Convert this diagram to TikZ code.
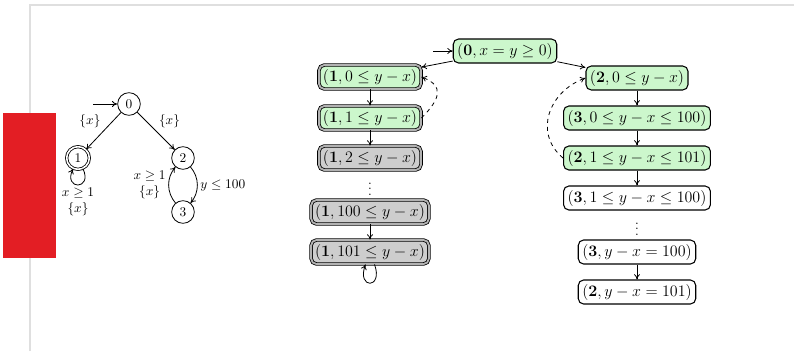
\documentclass[tikz,border=0pt]{standalone}
\usetikzlibrary{arrows.meta}
\usepackage{amsmath}
\usepackage{amssymb}

\definecolor{zonegreen}{RGB}{204,247,204}
\definecolor{zonegray}{RGB}{205,205,205}
\definecolor{slidered}{RGB}{227,30,36}

\begin{document}
\begin{tikzpicture}[x=0.75pt, y=0.75pt, >={To[length=4pt, width=4.5pt]}, semithick,
      loc/.style={circle, draw, minimum size=17pt, inner sep=0pt},
      loc_acc/.style={loc, double, double distance=1.2pt},
      edge_label/.style={font=\normalsize, inner sep=2pt},
      zone/.style={draw, thick, rounded corners=4pt, fill=zonegreen, inner xsep=3pt, inner ysep=3pt, font=\large},
      zone_white/.style={zone, fill=white},
      zone_acc/.style={zone, double=gray!60, double distance=1.4pt, line width=0.6pt},
      zone_dead/.style={zone_acc, fill=zonegray}
  ]

  % Fix the page size and draw the slide frame
  \useasboundingbox (0,0) rectangle (794,-351);
  \draw[gray!25, line width=1pt] (30,-351) -- (30,-5) -- (794,-5);
  \fill[slidered] (3,-113) rectangle (56,-258);

  % The timed automaton
  \node[loc] (s0) at (129,-104) {$0$};
  \node[loc_acc] (s1) at (78,-158) {$1$};
  \node[loc] (s2) at (183,-158) {$2$};
  \node[loc] (s3) at (183,-212) {$3$};
  \coordinate (s0_in) at (93,-104);

  \draw[->] (s0_in) -- (s0);
  \draw[->] (s0) -- node[edge_label, above left] {$\{x\}$} (s1);
  \draw[->] (s0) -- node[edge_label, above right] {$\{x\}$} (s2);
  \draw[->] (s1) to[loop, out=-65, in=-115, min distance=18pt] node[edge_label, below, align=center] {$x \geq 1$\\$\{x\}$} (s1);
  \draw[->] (s2) to[bend left=40] node[edge_label, right] {$y \leq 100$} (s3);
  \draw[->] (s3) to[bend left=40] node[edge_label, left, align=center] {$x \geq 1$\\$\{x\}$} (s2);

  % The zone graph: initial zone
  \node[zone] (n0) at (505,-51) {$(\mathbf{0}, x = y \geq 0)$};
  \coordinate (n0_in) at (433,-51);
  \draw[->] (n0_in) -- (n0);

  % Zones of location 1
  \node[zone_acc] (l1) at (370,-77) {$(\mathbf{1}, 0 \leq y - x)$};
  \node[zone_acc] (l2) at (370,-118) {$(\mathbf{1}, 1 \leq y - x)$};
  \node[zone_dead] (l3) at (370,-158) {$(\mathbf{1}, 2 \leq y - x)$};
  \node[inner sep=0pt] (l_dots) at (370,-185) {$\vdots$};
  \node[zone_dead] (l4) at (370,-212) {$(\mathbf{1}, 100 \leq y - x)$};
  \node[zone_dead] (l5) at (370,-252) {$(\mathbf{1}, 101 \leq y - x)$};

  % Zones of locations 2 and 3
  \node[zone] (r1) at (637,-78) {$(\mathbf{2}, 0 \leq y - x)$};
  \node[zone] (r2) at (637,-118) {$(\mathbf{3}, 0 \leq y - x \leq 100)$};
  \node[zone] (r3) at (637,-158) {$(\mathbf{2}, 1 \leq y - x \leq 101)$};
  \node[zone_white] (r4) at (637,-198) {$(\mathbf{3}, 1 \leq y - x \leq 100)$};
  \node[inner sep=0pt] (r_dots) at (637,-225) {$\vdots$};
  \node[zone_white] (r5) at (637,-252) {$(\mathbf{3}, y - x = 100)$};
  \node[zone_white] (r6) at (637,-292) {$(\mathbf{2}, y - x = 101)$};

  % Transitions between zones
  \draw[->] (n0) -- (l1);
  \draw[->] (n0) -- (r1);
  \foreach \a/\b in {l1/l2, l2/l3, l4/l5, r1/r2, r2/r3, r3/r4, r5/r6}
    \draw[->] (\a) -- (\b);
  \draw[->] (l5) to[loop, out=-70, in=-110, min distance=20pt] (l5);

  % Subsumed zones
  \draw[->, dashed] (l2.east) to[out=45, in=-20, looseness=1.6] (l1.east);
  \draw[->, dashed] (r3.west) to[out=140, in=200, looseness=1.2] (r1.west);

  \end{tikzpicture}
\end{document}
